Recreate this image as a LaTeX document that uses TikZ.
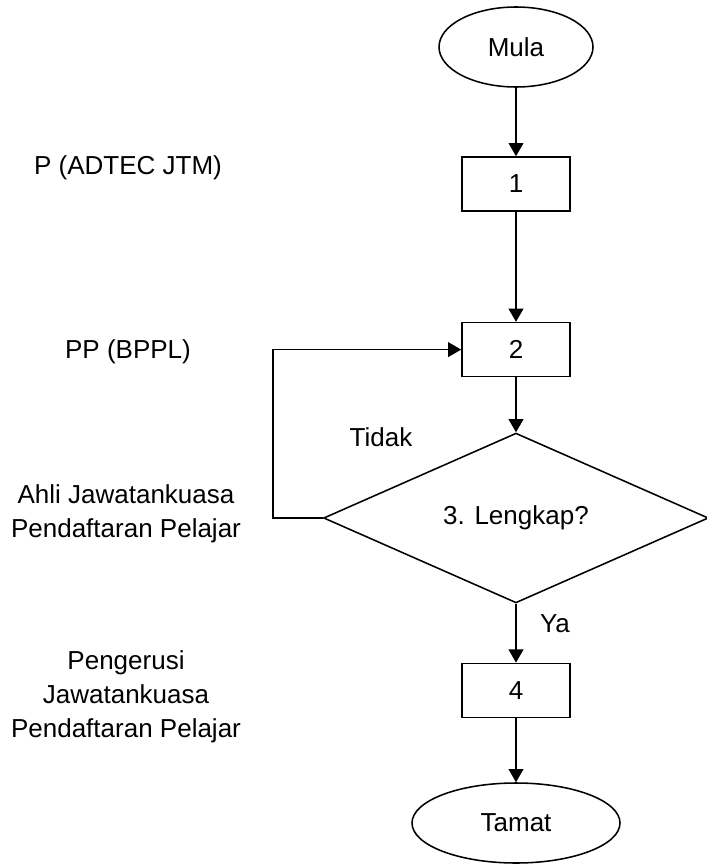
\documentclass[tikz,border=0pt]{standalone}
\usepackage{fontspec}
\setmainfont{Liberation Sans}
\usetikzlibrary{shapes.geometric,arrows.meta}

\begin{document}
\begin{tikzpicture}[
          font=\fontsize{18.5}{24.2}\selectfont,
          line width=1.1pt,
          box/.style={draw, minimum width=2.7cm, minimum height=1.35cm, align=center},
          terminal/.style={draw, ellipse, minimum height=2cm, align=center},
          decision/.style={draw, diamond, minimum width=9.62cm, minimum height=4.17cm, inner sep=0pt},
          role/.style={align=center},
          flow/.style={-{Triangle[length=0.33cm,width=0.37cm]}}
        ]
          \useasboundingbox (0,0) rectangle (17.675,-21.625);

          \node[terminal, minimum width=3.85cm] (mula) at (12.9,-1.175) {Mula};
          \node[box] (s1) at (12.9,-4.6) {1};
          \node[box] (s2) at (12.9,-8.74) {2};
          \node[decision] (lengkap) at (12.9,-12.95) {3. Lengkap?};
          \node[box] (s4) at (12.9,-17.26) {4};
          \node[terminal, minimum width=5.2cm] (tamat) at (12.9,-20.575) {Tamat};

          \node[role] (p) at (3.2,-4.2) {P (ADTEC JTM)};
          \node[role] (pp) at (3.2,-8.8) {PP (BPPL)};
          \node[role] (ahli) at (3.15,-12.85) {Ahli Jawatankuasa\\Pendaftaran Pelajar};
          \node[role] (pengerusi) at (3.15,-17.42) {Pengerusi\\Jawatankuasa\\Pendaftaran Pelajar};

          \node (tidak) at (9.525,-10.93) {Tidak};
          \node (ya) at (13.875,-15.58) {Ya};

          \coordinate (balik) at (6.825,-12.95);

          \draw[flow] (mula) -- (s1);
          \draw[flow] (s1) -- (s2);
          \draw[flow] (s2) -- (lengkap);
          \draw[flow] (lengkap) -- (s4);
          \draw[flow] (s4) -- (tamat);
          \draw[flow] (lengkap.west) -- (balik) |- (s2.west);
        \end{tikzpicture}
\end{document}
